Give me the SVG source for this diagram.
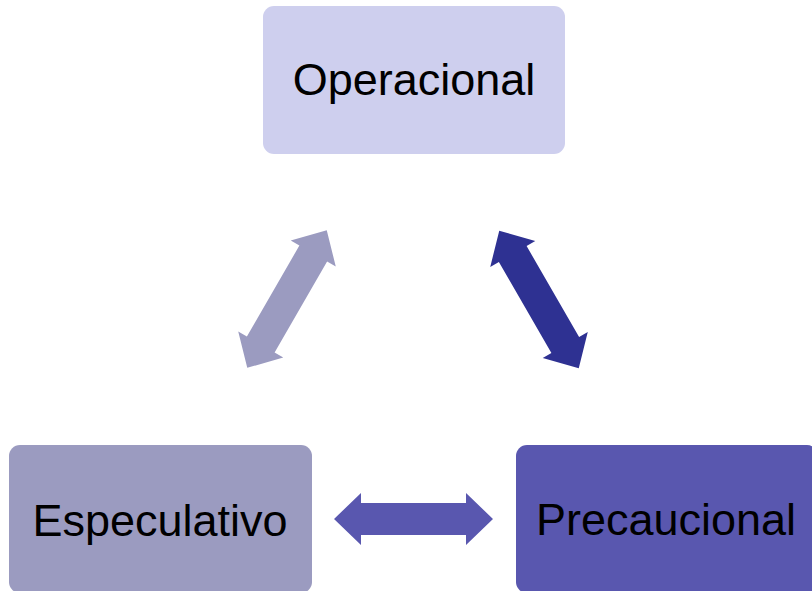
<svg xmlns="http://www.w3.org/2000/svg" width="812" height="591" viewBox="0 0 812 591">
<style>
.lbl{font-family:"Liberation Sans",Arial,sans-serif;font-size:45px;fill:#000;text-anchor:middle}
</style>
<defs>
<path id="dbl" d="M-79.5,0 L-52.5,-26 L-52.5,-16 L52.5,-16 L52.5,-26 L79.5,0 L52.5,26 L52.5,16 L-52.5,16 L-52.5,26 Z"/>
</defs>
<rect width="812" height="591" fill="#fff"/>
<g id="connectors">
<use href="#dbl" transform="translate(287,299) rotate(-60)" fill="#9B9BC0"/>
<use href="#dbl" transform="translate(539,299.5) rotate(60)" fill="#2E3192"/>
<use href="#dbl" transform="translate(413.5,519)" fill="#5957AF"/>
</g>
<g id="operacional">
<rect x="263" y="6" width="302" height="148" rx="11" fill="#CECFEE"/>
<text class="lbl" x="414" y="95">Operacional</text>
</g>
<g id="especulativo">
<rect x="9" y="445" width="303" height="148" rx="11" fill="#9B9BC0"/>
<text class="lbl" x="160" y="536">Especulativo</text>
</g>
<g id="precaucional">
<rect x="516" y="445" width="302" height="148" rx="11" fill="#5957AF"/>
<text class="lbl" x="666" y="535">Precaucional</text>
</g>
</svg>
